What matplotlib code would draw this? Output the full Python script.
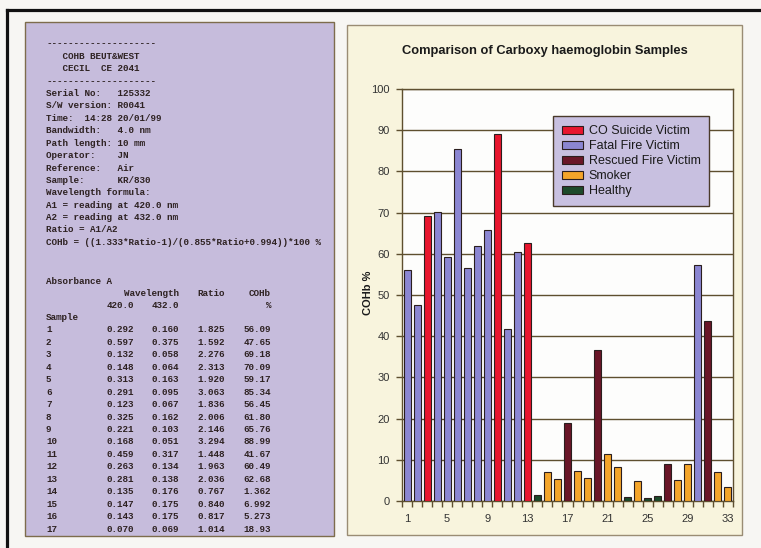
import numpy as np
import matplotlib
matplotlib.use('Agg')
import matplotlib.pyplot as plt
from matplotlib.patches import Rectangle
from matplotlib.lines import Line2D

# --- data: printout table (samples 1-17) ---
table_samples = list(range(1, 18))
a420 = ['0.292', '0.597', '0.132', '0.148', '0.313', '0.291', '0.123', '0.325', '0.221',
        '0.168', '0.459', '0.263', '0.281', '0.135', '0.147', '0.143', '0.070']
a432 = ['0.160', '0.375', '0.058', '0.064', '0.163', '0.095', '0.067', '0.162', '0.103',
        '0.051', '0.317', '0.134', '0.138', '0.176', '0.175', '0.175', '0.069']
ratio = ['1.825', '1.592', '2.276', '2.313', '1.920', '3.063', '1.836', '2.006', '2.146',
         '3.294', '1.448', '1.963', '2.036', '0.767', '0.840', '0.817', '1.014']
cohb_txt = ['56.09', '47.65', '69.18', '70.09', '59.17', '85.34', '56.45', '61.80', '65.76',
            '88.99', '41.67', '60.49', '62.68', '1.362', '6.992', '5.273', '18.93']

# --- data: chart (samples 1-33) ---
samples = list(range(1, 34))
cohb = [56.09, 47.65, 69.18, 70.09, 59.17, 85.34, 56.45, 61.80, 65.76, 88.99, 41.67,
        60.49, 62.68, 1.362, 6.992, 5.273, 18.93,
        7.2, 5.7, 36.7, 11.4, 8.2, 0.9, 4.8, 0.7, 1.3, 9.0, 5.1, 9.0, 57.2, 43.7, 7.0, 3.3]
group = ['Fatal', 'Fatal', 'CO', 'Fatal', 'Fatal', 'Fatal', 'Fatal', 'Fatal', 'Fatal', 'CO',
         'Fatal', 'Fatal', 'CO', 'Healthy', 'Smoker', 'Smoker', 'Rescued',
         'Smoker', 'Smoker', 'Rescued', 'Smoker', 'Smoker', 'Healthy', 'Smoker', 'Healthy',
         'Healthy', 'Rescued', 'Smoker', 'Smoker', 'Fatal', 'Rescued', 'Smoker', 'Smoker']
groups = ['CO', 'Fatal', 'Rescued', 'Smoker', 'Healthy']
group_labels = ['CO Suicide Victim', 'Fatal Fire Victim', 'Rescued Fire Victim', 'Smoker', 'Healthy']
group_colors = ['#e8162e', '#8b86d2', '#6a1628', '#f4a52a', '#1d4a2a']

header_lines = [
    '--------------------',
    '   COHB BEUT&WEST',
    '   CECIL  CE 2041',
    '--------------------',
    'Serial No:   125332',
    'S/W version: R0041',
    'Time:  14:28 20/01/99',
    'Bandwidth:   4.0 nm',
    'Path length: 10 mm',
    'Operator:    JN',
    'Reference:   Air',
    'Sample:      KR/830',
    'Wavelength formula:',
    'A1 = reading at 420.0 nm',
    'A2 = reading at 432.0 nm',
    'Ratio = A1/A2',
    'COHb = ((1.333*Ratio-1)/(0.855*Ratio+0.994))*100 %',
]

W, H = 761, 548


def fx(x):
    return x / W


def fy(y):
    return 1 - y / H


fig = plt.figure(figsize=(7.61, 5.48), dpi=100)
fig.patch.set_facecolor('#f7f6f3')

# outer black frame (left + top)
fig.add_artist(Line2D([fx(7), fx(7)], [fy(548), fy(10)], color='#111111', lw=2.3,
                      transform=fig.transFigure, zorder=-2))
fig.add_artist(Line2D([fx(7), fx(761)], [fy(10), fy(10)], color='#111111', lw=2.3,
                      transform=fig.transFigure, zorder=-2))

# left printout panel
fig.add_artist(Rectangle((fx(25), fy(536)), fx(334) - fx(25), fy(22) - fy(536),
                         transform=fig.transFigure, facecolor='#c6bcdc',
                         edgecolor='#7d6c4c', lw=1.0, zorder=-1))
# right chart panel
fig.add_artist(Rectangle((fx(347), fy(535)), fx(742) - fx(347), fy(25) - fy(535),
                         transform=fig.transFigure, facecolor='#f8f4dd',
                         edgecolor='#9a8c74', lw=1.0, zorder=-1))

mono = dict(family='Liberation Mono', fontweight='bold', fontsize=6.7, color='#2e2222',
            va='center')
for i, line in enumerate(header_lines):
    fig.text(fx(46), fy(44 + i * 12.4), line, ha='left', **mono)

fig.text(fx(46), fy(281), 'Absorbance A', ha='left', **mono)
fig.text(fx(124), fy(293), 'Wavelength', ha='left', **mono)
fig.text(fx(225), fy(293), 'Ratio', ha='right', **mono)
fig.text(fx(271), fy(293), 'COHb', ha='right', **mono)
fig.text(fx(134), fy(305), '420.0', ha='right', **mono)
fig.text(fx(179), fy(305), '432.0', ha='right', **mono)
fig.text(fx(271), fy(305), '%', ha='right', **mono)
fig.text(fx(46), fy(318), 'Sample', ha='left', **mono)
for i, s in enumerate(table_samples):
    y = fy(330 + i * 12.44)
    fig.text(fx(46), y, str(s), ha='left', **mono)
    fig.text(fx(134), y, a420[i], ha='right', **mono)
    fig.text(fx(179), y, a432[i], ha='right', **mono)
    fig.text(fx(225), y, ratio[i], ha='right', **mono)
    fig.text(fx(271), y, cohb_txt[i], ha='right', **mono)

# chart
ax = fig.add_axes([fx(402), fy(501), fx(733) - fx(402), fy(89) - fy(501)])
ax.set_facecolor('#fdfdfc')
x = np.array(samples)
vals = np.array(cohb)
grp = np.array(group)
for g, lab, col in zip(groups, group_labels, group_colors):
    m = grp == g
    ax.bar(x[m], vals[m], width=0.7, color=col, edgecolor='#2a1e1e', linewidth=0.8,
           label=lab, zorder=3)

ax.set_xlim(0.5, 33.5)
ax.set_ylim(0, 100)
ax.set_yticks(np.arange(0, 101, 10))
ax.set_xticks(np.arange(1, 34, 4))
ax.set_xticks(np.arange(0.5, 34, 1), minor=True)
ax.yaxis.grid(True, color='#5e4f2f', lw=1.0, zorder=0)
ax.set_axisbelow(True)
for sp in ax.spines.values():
    sp.set_color('#5e4f2f')
    sp.set_linewidth(1.0)
ax.tick_params(axis='y', direction='out', length=4, width=1.0, color='#5e4f2f',
               labelsize=8, labelcolor='#333333', pad=5)
ax.tick_params(axis='x', which='major', length=0, labelsize=8, labelcolor='#333333', pad=9)
ax.tick_params(axis='x', which='minor', direction='out', length=4, width=1.0, color='#5e4f2f')
for t in ax.get_xticklabels() + ax.get_yticklabels():
    t.set_family('Liberation Sans')

fig.text(fx(545), fy(51), 'Comparison of Carboxy haemoglobin Samples', ha='center',
         va='center', family='Liberation Sans', fontweight='bold', fontsize=9.25,
         color='#1a1a1a')
fig.text(fx(368), fy(293), 'COHb %', ha='center', va='center', rotation=90,
         family='Liberation Sans', fontweight='bold', fontsize=8, color='#1a1a1a')

leg = ax.legend(loc='upper left', bbox_to_anchor=(0.456, 0.934), fancybox=False,
                facecolor='#c8c0e0', edgecolor='#4a3a2a', framealpha=1,
                prop={'family': 'Liberation Sans', 'size': 9},
                handlelength=1.7, handleheight=0.6, labelspacing=0.25,
                borderpad=0.7, handletextpad=0.45, borderaxespad=0)
leg.get_frame().set_linewidth(1.0)
for t in leg.get_texts():
    t.set_color('#1a1a1a')

fig.savefig('out.png', dpi=100, facecolor=fig.get_facecolor())
